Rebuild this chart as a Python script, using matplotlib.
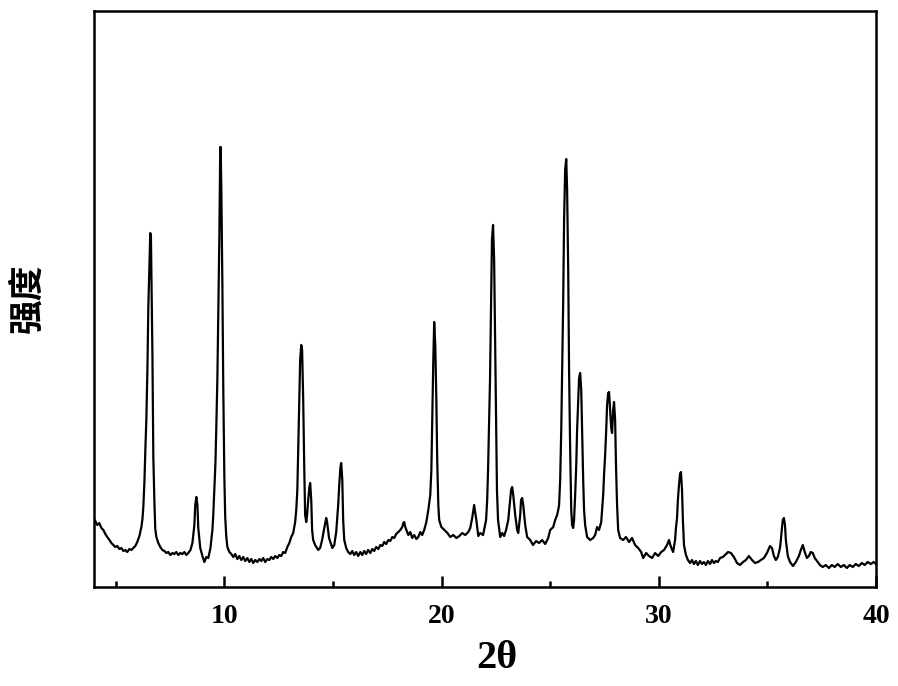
import matplotlib
matplotlib.use("Agg")
import matplotlib.pyplot as plt
from matplotlib.ticker import MultipleLocator

# XRD pattern (2theta, intensity a.u.)
two_theta_a = [4.00, 4.06, 4.15, 4.24, 4.34, 4.43, 4.52, 4.61, 4.71, 4.80, 4.89, 4.98, 5.07,
               5.17, 5.26, 5.35, 5.44, 5.53, 5.63, 5.72, 5.81, 5.90, 5.99, 6.09, 6.18, 6.23,
               6.27, 6.32, 6.36, 6.41, 6.46, 6.50, 6.55, 6.59, 6.62, 6.64, 6.69, 6.73, 6.78,
               6.82, 6.87, 6.96, 7.05, 7.15, 7.24, 7.33, 7.42, 7.51, 7.61, 7.70, 7.79, 7.88,
               7.97, 8.07, 8.16, 8.25, 8.34, 8.44, 8.53, 8.62, 8.66, 8.71, 8.76, 8.80, 8.89,
               8.99, 9.08, 9.17, 9.26, 9.36, 9.40, 9.45, 9.49, 9.54, 9.59, 9.63, 9.68, 9.72,
               9.77, 9.81, 9.83, 9.86, 9.91, 9.95, 10.00, 10.04, 10.09, 10.14, 10.23, 10.32]
intensity_a = [68, 66, 62, 64, 59, 57, 53, 50, 47, 44, 42, 40, 41,
               38, 39, 36, 37, 35, 38, 37, 39, 41, 45, 51, 60, 68,
               80, 105, 135, 168, 220, 280, 320, 354, 350, 315, 230, 130, 85,
               58, 50, 44, 40, 37, 36, 34, 35, 32, 34, 33, 35, 32,
               34, 33, 35, 32, 34, 37, 44, 62, 82, 90, 82, 59, 39,
               31, 25, 30, 29, 39, 47, 57, 72, 97, 124, 160, 210, 270,
               350, 440, 440, 400, 300, 200, 110, 70, 50, 40, 35, 33]

two_theta_b = [10.41, 10.50, 10.60, 10.69, 10.78, 10.87, 10.96, 11.06, 11.15, 11.24, 11.33,
               11.42, 11.52, 11.61, 11.70, 11.79, 11.88, 11.98, 12.07, 12.16, 12.25, 12.34,
               12.44, 12.53, 12.62, 12.71, 12.80, 12.90, 12.99, 13.08, 13.17, 13.22, 13.26,
               13.31, 13.36, 13.40, 13.45, 13.49, 13.54, 13.58, 13.63, 13.68, 13.72, 13.77,
               13.81, 13.86, 13.91, 13.95, 14.00, 14.04, 14.09, 14.18, 14.32, 14.41, 14.50,
               14.60, 14.69, 14.73, 14.82, 14.97, 15.06, 15.15, 15.24, 15.29, 15.34, 15.38,
               15.43, 15.47, 15.52, 15.61, 15.70]
intensity_b = [30, 33, 28, 31, 27, 30, 26, 29, 25, 28, 24,
               27, 25, 28, 26, 29, 25, 28, 27, 30, 28, 31,
               29, 32, 31, 35, 34, 40, 44, 50, 54, 60, 65,
               77, 97, 137, 187, 227, 242, 237, 187, 117, 72, 65,
               72, 87, 99, 104, 87, 57, 47, 42, 37, 39, 47,
               59, 69, 65, 49, 39, 42, 55, 82, 102, 119, 124,
               107, 67, 47, 39, 35]

two_theta_c = [15.80, 15.89, 15.98, 16.07, 16.16, 16.26, 16.35, 16.44, 16.53, 16.62, 16.72,
               16.81, 16.90, 16.99, 17.09, 17.18, 17.27, 17.36, 17.45, 17.55, 17.64, 17.73,
               17.82, 17.91, 18.01, 18.10, 18.19, 18.24, 18.28, 18.33, 18.38, 18.47, 18.56,
               18.65, 18.74, 18.84, 18.93, 19.02, 19.11, 19.20, 19.30, 19.39, 19.48, 19.53,
               19.57, 19.62, 19.66, 19.71, 19.76, 19.80, 19.85, 19.89, 19.99, 20.13, 20.27,
               20.40, 20.54, 20.68, 20.82, 20.95, 21.09, 21.23, 21.32, 21.41, 21.50, 21.60,
               21.69, 21.78, 21.91, 22.00, 22.05, 22.10, 22.14, 22.19, 22.23, 22.28, 22.32,
               22.37, 22.42, 22.46, 22.51, 22.55, 22.60, 22.70, 22.79, 22.88, 22.97, 23.07,
               23.16, 23.20, 23.25, 23.30, 23.39, 23.48, 23.53, 23.62, 23.66, 23.71, 23.76,
               23.85, 23.94, 24.08, 24.21, 24.35, 24.49, 24.63, 24.77, 24.91]
intensity_c = [33, 36, 32, 35, 31, 35, 32, 36, 33, 37, 34,
               38, 36, 40, 38, 42, 41, 45, 43, 47, 46, 50,
               49, 53, 55, 57, 60, 64, 65, 60, 57, 52, 55,
               49, 52, 48, 50, 55, 52, 57, 65, 77, 92, 117,
               167, 227, 265, 242, 187, 127, 82, 67, 60, 57, 54,
               50, 52, 49, 51, 54, 52, 55, 59, 69, 82, 67,
               51, 54, 52, 62, 67, 87, 117, 167, 207, 287, 347,
               362, 327, 257, 167, 97, 67, 50, 54, 51, 57, 67,
               87, 97, 100, 92, 72, 57, 54, 72, 87, 89, 82,
               62, 50, 47, 42, 46, 44, 47, 43, 49]

two_theta_d = [25.00, 25.14, 25.23, 25.32, 25.37, 25.41, 25.46, 25.51, 25.55, 25.60, 25.64,
               25.69, 25.74, 25.78, 25.83, 25.87, 25.92, 25.97, 26.01, 26.06, 26.10, 26.15,
               26.20, 26.24, 26.29, 26.33, 26.38, 26.43, 26.47, 26.52, 26.56, 26.61, 26.70,
               26.84, 26.98, 27.07, 27.16, 27.25, 27.35, 27.39, 27.44, 27.48, 27.53, 27.58,
               27.62, 27.67, 27.71, 27.76, 27.81, 27.85, 27.90, 27.94, 27.99, 28.03, 28.08,
               28.13, 28.22, 28.36, 28.49, 28.63, 28.77, 28.91, 29.05, 29.19, 29.28, 29.42,
               29.55, 29.69, 29.83, 29.97]
intensity_d = [57, 60, 67, 72, 77, 82, 107, 157, 217, 287, 367,
               417, 428, 397, 317, 217, 137, 77, 62, 59, 67, 92,
               122, 157, 187, 209, 214, 197, 157, 107, 77, 62, 50,
               47, 49, 52, 60, 57, 65, 77, 92, 112, 132, 157,
               182, 194, 195, 177, 159, 154, 177, 185, 167, 122, 82,
               57, 49, 47, 50, 45, 49, 42, 39, 35, 29, 34,
               31, 29, 34, 31]

two_theta_e = [30.11, 30.24, 30.38, 30.47, 30.56, 30.66, 30.75, 30.79, 30.84, 30.88, 30.93,
               30.98, 31.02, 31.07, 31.11, 31.16, 31.25, 31.34, 31.44, 31.53, 31.62, 31.71,
               31.80, 31.90, 31.99, 32.08, 32.17, 32.26, 32.36, 32.45, 32.54, 32.63, 32.72,
               32.82, 32.95, 33.05, 33.19, 33.32, 33.46, 33.60, 33.74, 33.88, 34.01, 34.15,
               34.29, 34.43, 34.57, 34.70, 34.84, 34.98, 35.12, 35.21, 35.30, 35.39, 35.48,
               35.58, 35.62, 35.67, 35.71, 35.76, 35.81, 35.85, 35.94, 36.04, 36.18, 36.31,
               36.45, 36.54, 36.63, 36.72, 36.82, 36.91, 37.00, 37.09, 37.18, 37.32, 37.42,
               37.55, 37.69, 37.83, 37.97, 38.10, 38.24, 38.38, 38.52, 38.66, 38.79, 38.93,
               39.07, 39.21, 39.35, 39.48, 39.62, 39.76, 39.90, 40.00]
intensity_e = [35, 37, 42, 47, 40, 35, 47, 59, 69, 87, 102,
               113, 115, 97, 67, 42, 32, 27, 24, 27, 23, 26,
               22, 26, 23, 25, 22, 26, 23, 27, 24, 26, 25,
               29, 30, 32, 35, 34, 30, 24, 22, 25, 27, 31,
               27, 24, 25, 27, 29, 34, 41, 39, 31, 27, 30,
               39, 47, 59, 67, 69, 62, 47, 31, 25, 21, 25,
               31, 37, 42, 35, 29, 31, 35, 34, 29, 25, 22,
               20, 22, 19, 22, 20, 23, 20, 22, 19, 22, 20,
               23, 21, 24, 22, 25, 23, 25, 23]

two_theta = two_theta_a + two_theta_b + two_theta_c + two_theta_d + two_theta_e
intensity = intensity_a + intensity_b + intensity_c + intensity_d + intensity_e

fig = plt.figure(figsize=(8.98, 6.86), dpi=100)
ax = fig.add_axes([0.1047, 0.1443, 0.8708, 0.8397])

ax.plot(two_theta, intensity, color="black", linewidth=1.6)

ax.set_xlim(4.0, 40)
ax.set_ylim(0, 576)
ax.xaxis.set_major_locator(MultipleLocator(10))
ax.xaxis.set_minor_locator(MultipleLocator(5))
ax.set_yticks([])
ax.tick_params(axis="x", which="major", direction="in", length=8, width=1.8, pad=12)
ax.tick_params(axis="x", which="minor", direction="in", length=4, width=1.8)
for lab in ax.get_xticklabels():
    lab.set_fontfamily("Liberation Serif")
    lab.set_fontweight("bold")
    lab.set_fontsize(20)
for sp in ax.spines.values():
    sp.set_linewidth(1.8)

fig.text(0.553, 0.04, "2θ", ha="center", va="center",
         fontfamily="Liberation Serif", fontweight="bold", fontsize=29)
fig.text(0.030, 0.565, "强度", ha="center", va="center", rotation=90,
         fontfamily=["Noto Sans CJK SC", "DejaVu Sans"], fontweight="bold", fontsize=25)

fig.savefig("out.png", dpi=100)
